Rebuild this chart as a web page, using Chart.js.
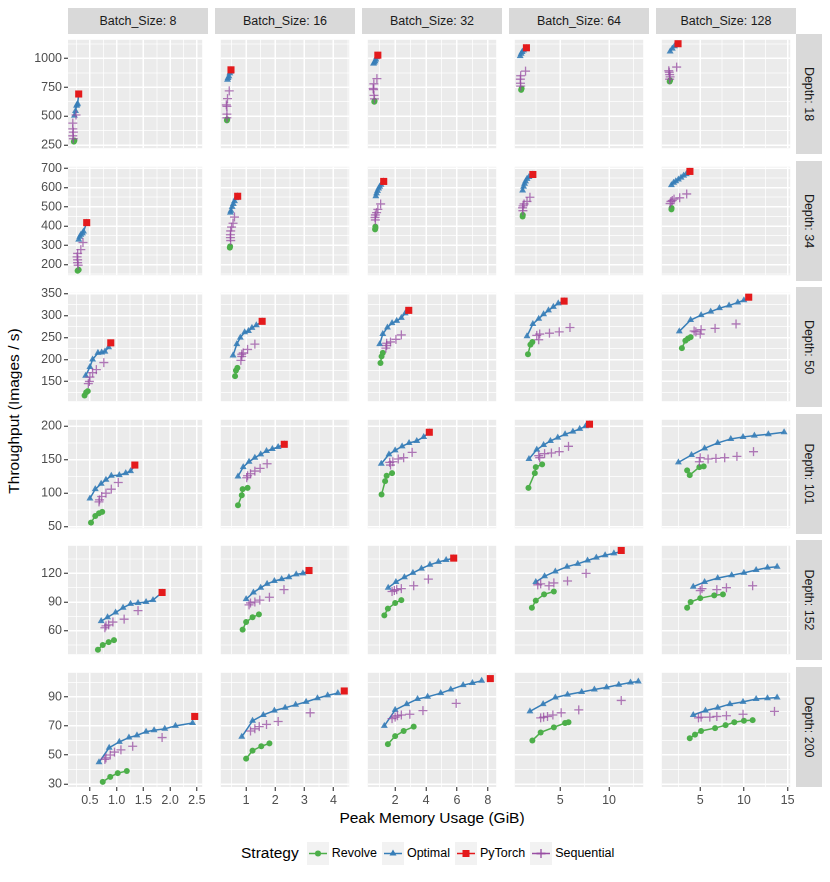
<!DOCTYPE html>
<html>
<head>
<meta charset="utf-8">
<script src="https://cdn.jsdelivr.net/npm/chart.js@4.4.1/dist/chart.umd.min.js"></script>
<style>
  body { margin: 0; background: #fff; font-family: "Liberation Sans", Arial, sans-serif; }
  #wrap { position: relative; width: 830px; height: 882px; overflow: hidden; }
  canvas { position: absolute; }
  .strip { position: absolute; background: #D9D9D9; color: #1A1A1A; font-size: 12.5px;
           display: flex; align-items: center; justify-content: center; white-space: nowrap; }
  .strip.side span { transform: rotate(90deg); display: inline-block; }
  .title { position: absolute; color: #000; font-size: 15.5px; white-space: nowrap; }
  #legend { position: absolute; left: 241px; top: 841px; height: 24px; display: flex; align-items: center; }
  #legend .lt { font-size: 15.5px; margin-right: 8px; }
  #legend .lk { width: 22px; height: 23px; margin-right: 3px; }
  #legend .ll { font-size: 12.5px; margin-right: 5px; }
</style>
</head>
<body>
<div id="wrap">
  <div class="title" id="ytitle">Throughput (Images / s)</div>
  <div class="title" id="xtitle">Peak Memory Usage (GiB)</div>
  <div id="legend"></div>
</div>
<script>
// facets
const batchSizes = [8, 16, 32, 64, 128];
const depths = [18, 34, 50, 101, 152, 200];

// per column (batch size) x limits and ticks
const xLimits = [[0.09, 2.6], [0.13, 4.54], [0.23, 8.54], [0.35, 13.5], [0.6, 15.3]];
const xMajor = [[0.5, 1, 1.5, 2, 2.5], [1, 2, 3, 4], [2, 4, 6, 8], [5, 10], [5, 10, 15]];
const xMinor = [[0.25, 0.75, 1.25, 1.75, 2.25], [0.5, 1.5, 2.5, 3.5, 4.5], [1, 3, 5, 7], [2.5, 7.5, 12.5], [2.5, 7.5, 12.5]];
const xLabels = [['0.5', '1.0', '1.5', '2.0', '2.5'], ['1', '2', '3', '4'], ['2', '4', '6', '8'], ['5', '10'], ['5', '10', '15']];

// per row (depth) y limits and ticks
const yLimits = [[223, 1161], [145, 708], [105, 352], [47.7, 209.6], [35.3, 148.9], [28, 106.5]];
const yMajor = [[250, 500, 750, 1000], [200, 300, 400, 500, 600, 700], [150, 200, 250, 300, 350], [50, 100, 150, 200], [60, 90, 120], [30, 50, 70, 90]];
const yMinor = [[375, 625, 875, 1125], [150, 250, 350, 450, 550, 650], [125, 175, 225, 275, 325], [75, 125, 175], [45, 75, 105, 135], [40, 60, 80, 100]];

// [depth row][batch column] -> [[memory GiB, images/s], ...]
const revolve = [
  [[[0.2, 280], [0.21, 290]], [[0.34, 464], [0.35, 472]], [[0.65, 625], [0.67, 632]], [[1.0, 728], [1.05, 740]], [[1.5, 800], [1.55, 810]]],
  [[[0.27, 168], [0.29, 173]], [[0.44, 288], [0.45, 295]], [[0.7, 383], [0.72, 390], [0.72, 397]], [[1.15, 450], [1.17, 458]], [[1.7, 487], [1.72, 494]]],
  [[[0.4, 118], [0.43, 125], [0.46, 128]], [[0.62, 162], [0.65, 175], [0.7, 181]], [[1.05, 192], [1.12, 207], [1.2, 215]], [[1.7, 212], [1.95, 234], [2.15, 240]], [[2.9, 226], [3.3, 243], [3.6, 248], [3.9, 251]]],
  [[[0.52, 56], [0.6, 66], [0.67, 70], [0.73, 72]], [[0.72, 82], [0.85, 97], [0.88, 106], [1.05, 108]], [[1.12, 98], [1.35, 118], [1.45, 126], [1.8, 130]], [[1.75, 108], [2.4, 130], [2.5, 139], [3.15, 143]], [[3.5, 134], [3.8, 127], [4.9, 139], [5.4, 140]]],
  [[[0.65, 40], [0.74, 45], [0.85, 48], [0.95, 50]], [[0.88, 61], [1.0, 69], [1.22, 74], [1.44, 77]], [[1.3, 76], [1.53, 83], [2.0, 89], [2.4, 92]], [[2.1, 84], [2.5, 91.5], [3.35, 98], [4.35, 101]], [[3.5, 84], [3.9, 90], [5.0, 94], [6.6, 97], [7.6, 98]]],
  [[[0.74, 31.5], [0.88, 35], [1.02, 37.5], [1.19, 39]], [[1.0, 47.5], [1.22, 53], [1.52, 56], [1.8, 58]], [[1.53, 57.5], [2.0, 63], [2.55, 66.5], [3.2, 69.5]], [[2.15, 60], [3.0, 65.5], [4.35, 69], [5.5, 72], [5.85, 72.5]], [[3.8, 61.5], [4.4, 64], [5.1, 66.5], [6.7, 68.5], [7.9, 70.5], [8.9, 72.5], [10.0, 73.5], [11.0, 74]]]
];
const optimal = [
  [[[0.21, 505], [0.23, 545], [0.25, 590], [0.26, 600], [0.27, 608], [0.29, 690]], [[0.36, 815], [0.38, 830], [0.41, 845], [0.44, 870], [0.46, 885], [0.48, 900]], [[0.6, 955], [0.65, 965], [0.7, 975], [0.75, 990], [0.8, 1010], [0.88, 1025]], [[0.9, 1020], [1.0, 1040], [1.1, 1055], [1.25, 1070], [1.54, 1090]], [[1.55, 1060], [1.8, 1085], [2.05, 1105], [2.46, 1125]]],
  [[[0.29, 330], [0.31, 345], [0.33, 355], [0.36, 362], [0.38, 372], [0.44, 418]], [[0.46, 470], [0.48, 480], [0.52, 500], [0.56, 515], [0.6, 530], [0.65, 545], [0.71, 555]], [[0.75, 555], [0.8, 570], [0.86, 583], [0.93, 595], [1.0, 605], [1.08, 615], [1.26, 632]], [[1.15, 585], [1.25, 605], [1.35, 620], [1.45, 632], [1.6, 645], [1.8, 655], [2.2, 668]], [[1.7, 613], [1.95, 625], [2.2, 633], [2.5, 642], [2.8, 652], [3.1, 662], [3.4, 670], [3.82, 683]]],
  [[[0.42, 163], [0.5, 183], [0.55, 200], [0.65, 215], [0.72, 216], [0.78, 218], [0.85, 228], [0.89, 237]], [[0.55, 209], [0.68, 235], [0.8, 250], [0.95, 262], [1.08, 265], [1.2, 272], [1.35, 278], [1.55, 287]], [[1.0, 235], [1.2, 258], [1.5, 273], [1.8, 283], [2.1, 288], [2.4, 295], [2.65, 305], [2.88, 311]], [[1.6, 253], [2.2, 281], [2.8, 293], [3.3, 303], [3.8, 312], [4.3, 320], [4.8, 328], [5.4, 333]], [[2.6, 264], [3.9, 290], [5.1, 301], [6.2, 309], [7.2, 317], [8.3, 323], [9.3, 330], [10.0, 335], [10.55, 341]]],
  [[[0.5, 92], [0.6, 106], [0.71, 114], [0.8, 120], [0.9, 126], [1.05, 127], [1.17, 130], [1.26, 133], [1.34, 141]], [[0.72, 125], [0.9, 139], [1.1, 147], [1.3, 153], [1.5, 158], [1.7, 163], [1.9, 166], [2.1, 169], [2.31, 173]], [[1.1, 144], [1.6, 158], [2.0, 164], [2.45, 170], [2.9, 175], [3.4, 178], [3.85, 184], [4.21, 191]], [[1.8, 151], [2.6, 165], [3.3, 172], [4.0, 178], [4.75, 183], [5.5, 188], [6.3, 192], [7.0, 196], [7.6, 200], [8.0, 203]], [[2.5, 146], [4.0, 157], [5.5, 167], [7.0, 175], [8.5, 181], [9.9, 184], [11.2, 186], [12.8, 188], [14.6, 191]]],
  [[[0.71, 70], [0.83, 74], [0.98, 79], [1.12, 84], [1.26, 88], [1.4, 89], [1.55, 90], [1.68, 92], [1.85, 100]], [[1.0, 93], [1.25, 100], [1.5, 105], [1.72, 109], [1.97, 112], [2.22, 114], [2.47, 116], [2.72, 119], [2.95, 120], [3.16, 123]], [[1.55, 105], [2.05, 111], [2.6, 116], [3.15, 120.5], [3.7, 125], [4.25, 129], [4.8, 132], [5.3, 134], [5.79, 136]], [[2.5, 111], [3.4, 117], [4.5, 122], [5.7, 127], [6.8, 130], [7.8, 133.5], [8.7, 136.5], [9.6, 139], [10.5, 141], [11.25, 143]], [[4.2, 106], [5.5, 111], [7.0, 115], [8.6, 118], [10.0, 120.5], [11.4, 123.5], [12.7, 126], [13.8, 127]]],
  [[[0.67, 45], [0.86, 55], [1.05, 59], [1.23, 62], [1.38, 63.5], [1.55, 66], [1.7, 67], [1.9, 68], [2.1, 70], [2.42, 72]], [[0.85, 62.5], [1.22, 73.5], [1.59, 77.5], [1.97, 80.5], [2.34, 82.5], [2.7, 84.5], [3.06, 86.5], [3.45, 89], [3.8, 91], [4.15, 92.5]], [[1.3, 70], [2.0, 81], [2.75, 85], [3.45, 88.5], [4.1, 90], [4.95, 92.5], [5.6, 95], [6.4, 98], [7.0, 99.5], [7.6, 101]], [[1.9, 80], [3.25, 85], [4.5, 89.5], [5.75, 91.5], [7.2, 93.3], [8.5, 95], [9.75, 96.5], [11.0, 98.3], [12.2, 99.8], [13.0, 100.5]], [[4.2, 77.5], [5.6, 80.5], [7.0, 82.5], [8.4, 85], [9.9, 86.5], [11.4, 88.5], [12.7, 89], [13.8, 89.5]]]
];
const pytorch = [
  [[[0.29, 692]], [[0.48, 901]], [[0.88, 1028]], [[1.54, 1092]], [[2.46, 1127]]],
  [[[0.44, 418]], [[0.71, 555]], [[1.26, 632]], [[2.2, 668]], [[3.82, 684]]],
  [[[0.89, 238]], [[1.55, 287]], [[2.88, 312]], [[5.4, 333]], [[10.55, 342]]],
  [[[1.34, 142]], [[2.31, 173]], [[4.21, 191]], [[8.0, 203]], []],
  [[[1.85, 100]], [[3.16, 123]], [[5.79, 136]], [[11.25, 144]], []],
  [[[2.46, 76.5]], [[4.37, 94]], [[8.16, 102.5]], [], []]
];
const sequential = [
  [[[0.24, 510], [0.18, 440], [0.18, 390], [0.19, 362], [0.18, 330], [0.19, 305]], [[0.42, 719], [0.36, 652], [0.32, 598], [0.34, 585], [0.34, 518], [0.34, 486]], [[0.82, 825], [0.62, 780], [0.58, 740], [0.6, 730], [0.63, 680], [0.66, 650]], [[1.45, 890], [0.95, 850], [0.92, 820], [0.93, 785], [0.95, 760]], [[2.3, 925], [1.4, 893], [1.45, 880], [1.5, 860], [1.55, 840], [1.5, 820]]],
  [[[0.37, 315], [0.33, 278], [0.27, 258], [0.26, 240], [0.27, 225], [0.27, 210], [0.28, 197]], [[0.6, 447], [0.55, 415], [0.5, 395], [0.47, 375], [0.46, 355], [0.46, 340], [0.47, 325]], [[1.06, 515], [0.88, 487], [0.8, 470], [0.72, 458], [0.7, 445], [0.72, 432]], [[1.9, 550], [1.6, 528], [1.3, 515], [1.2, 505], [1.15, 495], [1.18, 480]], [[3.45, 567], [2.65, 547], [2.0, 540], [1.8, 533], [1.65, 528], [1.55, 517]]],
  [[[0.76, 193], [0.62, 177], [0.55, 170], [0.5, 160], [0.49, 150], [0.47, 145]], [[1.3, 235], [1.05, 223], [0.9, 215], [0.85, 207], [0.82, 198], [0.85, 212]], [[2.4, 256], [2.05, 246], [1.7, 240], [1.45, 232], [1.4, 226], [1.45, 237]], [[6.0, 273], [4.9, 263], [3.9, 260], [2.9, 258], [2.6, 255], [2.8, 245]], [[9.1, 281], [6.7, 271], [5.1, 268], [4.3, 265], [5.0, 258], [4.5, 263]]],
  [[[1.03, 116], [0.9, 106], [0.8, 100], [0.72, 95], [0.68, 90], [0.67, 87]], [[1.72, 144], [1.48, 137], [1.3, 133], [1.15, 129], [1.05, 126], [1.02, 123]], [[3.1, 161], [2.55, 153], [2.2, 151], [1.85, 147], [1.65, 146], [1.7, 142]], [[5.85, 170], [4.9, 162], [4.1, 160], [3.4, 159], [2.8, 156], [2.9, 153]], [[11.1, 162], [9.2, 155], [7.8, 153], [6.8, 152], [5.9, 151], [5.0, 153], [4.9, 147]]],
  [[[1.4, 81], [1.14, 72], [0.93, 69], [0.85, 66], [0.78, 63], [0.8, 65]], [[2.3, 103], [1.8, 95], [1.47, 92], [1.3, 90], [1.15, 89], [1.1, 87]], [[4.15, 114], [3.2, 107], [2.4, 104], [2.1, 103], [1.8, 101], [1.95, 102]], [[7.65, 120], [5.75, 112], [4.35, 110], [3.85, 107], [3.0, 109], [2.7, 108]], [[11.0, 107], [8.0, 105], [6.9, 103], [5.2, 104], [5.0, 102]]],
  [[[1.85, 62], [1.3, 56], [1.08, 53.5], [0.96, 52], [0.88, 50], [0.8, 48], [0.78, 47]], [[3.2, 79], [2.1, 73], [1.7, 71], [1.45, 69.5], [1.3, 68], [1.15, 66.5]], [[5.95, 85.5], [3.8, 80.5], [2.95, 78], [2.4, 77.5], [2.15, 77], [2.0, 76], [1.8, 75]], [[11.25, 87.5], [6.9, 81], [5.1, 79], [4.25, 77.5], [3.7, 76.5], [3.3, 76], [3.0, 75.5]], [[13.5, 80], [9.9, 78], [8.0, 77], [6.9, 76.5], [6.1, 76], [5.1, 76], [4.8, 75.5]]]
];

const strategies = ['Revolve', 'Optimal', 'PyTorch', 'Sequential'];
const colors = { Revolve: '#4DAF4A', Optimal: '#377EB8', PyTorch: '#E41A1C', Sequential: '#984EA3' };

// layout of the facet grid
const PL = 68, PT = 34, PW = 140, PH = 120, GX = 147, GY = 126.6;
const YAXIS_W = 60, XAXIS_H = 22;
const wrap = document.getElementById('wrap');

const panelBg = {
  id: 'panelBg',
  beforeDraw(chart) {
    const { ctx, chartArea: a } = chart;
    ctx.save();
    ctx.fillStyle = '#EBEBEB';
    ctx.fillRect(a.left, a.top, a.width, a.height);
    ctx.restore();
  }
};

function tickList(major, minor) {
  return major.concat(minor).sort((a, b) => a - b).map(v => ({ value: v }));
}

function toPts(arr) {
  return arr.map(p => ({ x: p[0], y: p[1] })).sort((a, b) => a.x - b.x);
}

function axis(lim, major, minor, labels, showTicks, isX) {
  const isMajor = v => major.some(m => Math.abs(m - v) < 1e-9);
  return {
    type: 'linear',
    position: isX ? 'bottom' : 'left',
    min: lim[0],
    max: lim[1],
    afterBuildTicks: s => { s.ticks = tickList(major, minor); },
    afterFit: s => {
      if (isX) s.height = showTicks ? XAXIS_H : 0; else s.width = showTicks ? YAXIS_W : 0;
      s.paddingLeft = s.paddingRight = s.paddingTop = s.paddingBottom = 0;
    },
    border: { display: false },
    grid: {
      color: '#FFFFFF',
      lineWidth: c => (c.tick && isMajor(c.tick.value)) ? 1.5 : 0.75,
      drawTicks: showTicks,
      tickLength: 4,
      tickWidth: 1.1,
      tickColor: c => (c.tick && isMajor(c.tick.value)) ? '#333333' : 'rgba(0,0,0,0)'
    },
    ticks: {
      display: showTicks,
      autoSkip: false,
      maxRotation: 0,
      padding: 2,
      color: '#4D4D4D',
      font: { family: 'Liberation Sans', size: 12.5 },
      callback: v => {
        const i = major.findIndex(m => Math.abs(m - v) < 1e-9);
        return i >= 0 ? labels[i] : '';
      }
    }
  };
}

function drawPanel(r, c) {
  const first = c === 0, last = r === depths.length - 1;
  const left = PL + c * GX - (first ? YAXIS_W : 0);
  const top = Math.round(PT + r * GY);
  const w = PW + (first ? YAXIS_W : 0);
  const h = PH + (last ? XAXIS_H : 0);
  const cv = document.createElement('canvas');
  cv.width = w; cv.height = h;
  cv.style.left = left + 'px'; cv.style.top = top + 'px';
  cv.style.width = w + 'px'; cv.style.height = h + 'px';
  wrap.appendChild(cv);

  const yLabels = yMajor[r].map(String);
  new Chart(cv, {
    type: 'scatter',
    data: {
      datasets: [
        {
          label: 'PyTorch', data: toPts(pytorch[r][c]), showLine: false,
          pointStyle: 'rect', pointRadius: 5, pointBackgroundColor: colors.PyTorch, pointBorderWidth: 0
        },
        {
          label: 'Sequential', data: toPts(sequential[r][c]), showLine: false,
          pointStyle: 'cross', pointRadius: 4.5, pointBorderColor: 'rgba(152,78,163,0.75)', pointBorderWidth: 1.3
        },
        {
          label: 'Optimal', data: toPts(optimal[r][c]), showLine: true,
          borderColor: colors.Optimal, borderWidth: 1.5,
          pointStyle: 'triangle', pointRadius: 4, pointBackgroundColor: 'rgba(55,126,184,0.9)', pointBorderWidth: 0
        },
        {
          label: 'Revolve', data: toPts(revolve[r][c]), showLine: true,
          borderColor: colors.Revolve, borderWidth: 1.5,
          pointStyle: 'circle', pointRadius: 3, pointBackgroundColor: colors.Revolve, pointBorderWidth: 0
        }
      ]
    },
    options: {
      responsive: false,
      animation: false,
      devicePixelRatio: 2,
      layout: { padding: 0 },
      clip: false,
      events: [],
      plugins: { legend: { display: false }, tooltip: { enabled: false } },
      scales: {
        x: axis(xLimits[c], xMajor[c], xMinor[c], xLabels[c], last, true),
        y: axis(yLimits[r], yMajor[r], yMinor[r], yLabels, first, false)
      }
    },
    plugins: [panelBg]
  });
}

for (let r = 0; r < depths.length; r++) {
  for (let c = 0; c < batchSizes.length; c++) drawPanel(r, c);
}

// strips
batchSizes.forEach((b, c) => {
  const d = document.createElement('div');
  d.className = 'strip';
  d.style.left = (PL + c * GX) + 'px'; d.style.top = '8px';
  d.style.width = PW + 'px'; d.style.height = (PT - 8) + 'px';
  d.textContent = 'Batch_Size: ' + b;
  wrap.appendChild(d);
});
depths.forEach((dp, r) => {
  const d = document.createElement('div');
  d.className = 'strip side';
  d.style.left = (PL + 4 * GX + PW) + 'px'; d.style.top = Math.round(PT + r * GY) + 'px';
  d.style.width = '26px'; d.style.height = PH + 'px';
  const s = document.createElement('span');
  s.textContent = 'Depth: ' + dp;
  d.appendChild(s);
  wrap.appendChild(d);
});

// axis titles
const panelsMidX = PL + (4 * GX + PW) / 2;
const panelsMidY = PT + (5 * GY + PH) / 2;
const xt = document.getElementById('xtitle');
xt.style.left = panelsMidX + 'px'; xt.style.top = '809px'; xt.style.transform = 'translateX(-50%)';
const yt = document.getElementById('ytitle');
yt.style.left = '14px'; yt.style.top = panelsMidY + 'px';
yt.style.transform = 'translate(-50%, -50%) rotate(-90deg)';

// legend
const legend = document.getElementById('legend');
const lt = document.createElement('span');
lt.className = 'lt'; lt.textContent = 'Strategy';
legend.appendChild(lt);
const keyShapes = {
  Revolve: '<circle cx="11" cy="11.5" r="3" fill="#4DAF4A"/>',
  Optimal: '<polygon points="11,7.5 14.5,13.5 7.5,13.5" fill="#377EB8"/>',
  PyTorch: '<rect x="7.5" y="8" width="7" height="7" fill="#E41A1C"/>',
  Sequential: '<path d="M6.5 11.5 H15.5 M11 7 V16" stroke="#984EA3" stroke-width="1.3"/>'
};
strategies.forEach(s => {
  const k = document.createElement('span');
  k.className = 'lk';
  k.innerHTML = '<svg width="22" height="23"><rect width="22" height="23" fill="#F2F2F2"/>' +
    '<line x1="2" y1="11.5" x2="20" y2="11.5" stroke="' + colors[s] + '" stroke-width="1.5"/>' +
    keyShapes[s] + '</svg>';
  legend.appendChild(k);
  const l = document.createElement('span');
  l.className = 'll'; l.textContent = s;
  legend.appendChild(l);
});
</script>
</body>
</html>
